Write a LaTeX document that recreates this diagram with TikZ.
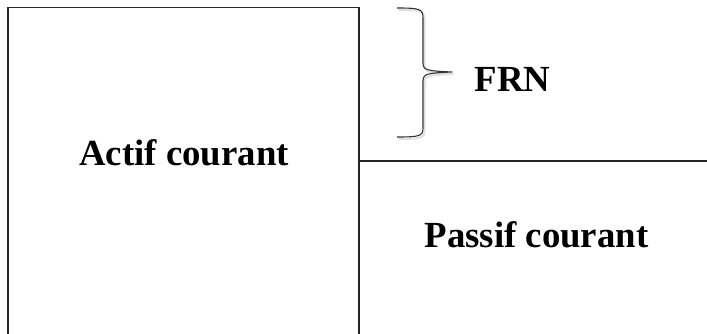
\documentclass[tikz,border=0pt]{standalone}
\usepackage{fontspec}
\setmainfont{Liberation Serif}
\begin{document}
\begin{tikzpicture}[x=1pt, y=-1pt,
  frame/.style={line width=1.3pt, draw=black!85},
  bracestyle/.style={line width=1.1pt, draw=black!80, line join=round},
  label/.style={font=\fontsize{36.8}{44}\selectfont\bfseries, anchor=base, inner sep=0pt}]
  \useasboundingbox (0,0) rectangle (707,334);
  % open box for current assets
  \draw[frame] (8,334) -- (8,7.5) -- (359,7.5) -- (359,334);
  % split line for current liabilities
  \draw[frame] (359,161) -- (707,161);
  % soft shadow of the brace
  \draw[line width=2pt, draw=black!12, xshift=1.5pt, yshift=-2pt]
    (397,8) .. controls (420,8) and (423,9) .. (423,18) -- (423,64)
    .. controls (423,70) and (428,71) .. (452,72)
    .. controls (428,73) and (423,74) .. (423,80) -- (423,128)
    .. controls (423,136) and (420,137) .. (397,137);
  % brace marking the working capital
  \draw[bracestyle]
    (397,8) .. controls (420,8) and (423,9) .. (423,18) -- (423,64)
    .. controls (423,70) and (428,71) .. (452,72)
    .. controls (428,73) and (423,74) .. (423,80) -- (423,128)
    .. controls (423,136) and (420,137) .. (397,137);
  \node[label] (frn) at (512.5,92) {FRN};
  \node[label] (actif) at (184,166) {Actif courant};
  \node[label] (passif) at (536.5,247) {Passif courant};
\end{tikzpicture}
\end{document}
